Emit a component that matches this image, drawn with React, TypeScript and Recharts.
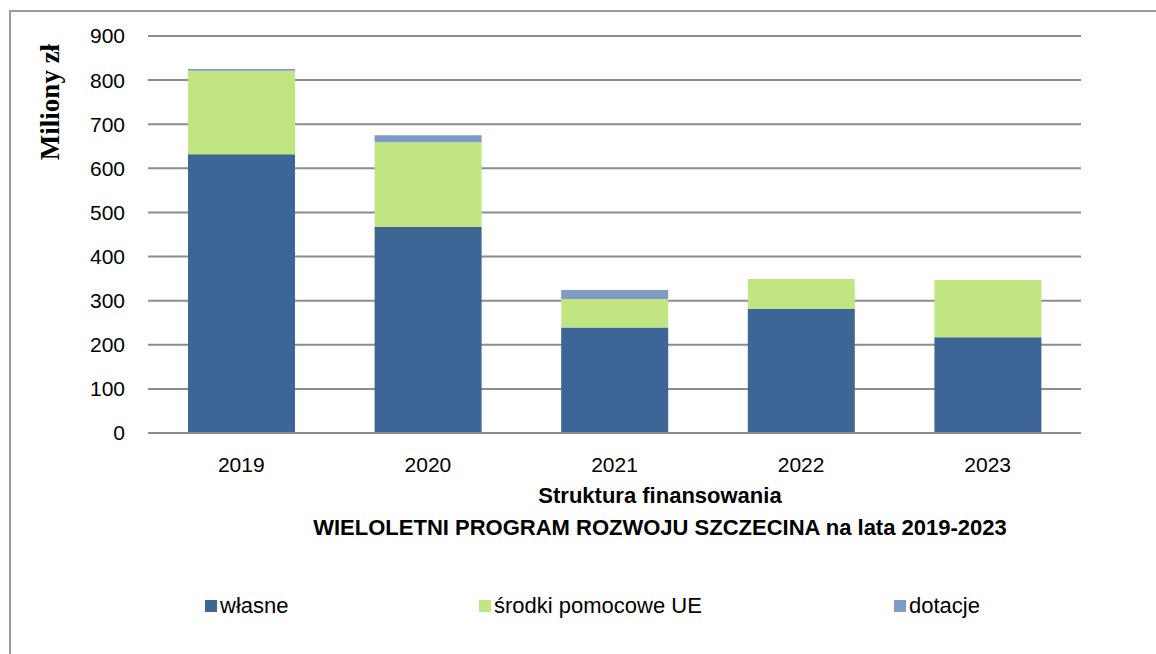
import { BarChart, Bar, XAxis, YAxis, CartesianGrid, Legend } from "recharts";

const years = ["2019", "2020", "2021", "2022", "2023"];
const wlasne = [632, 467, 239, 281, 217];
const srodkiUE = [189, 192, 65, 68, 130];
const dotacje = [4, 16, 20, 0, 0];
const yTicks = [0, 100, 200, 300, 400, 500, 600, 700, 800, 900];

const data = years.map((year, i) => ({
  year,
  wlasne: wlasne[i],
  srodkiUE: srodkiUE[i],
  dotacje: dotacje[i],
}));

const legendItems = [
  { label: "własne", color: "#3d6595", x: 205 },
  { label: "środki pomocowe UE", color: "#c1e583", x: 479 },
  { label: "dotacje", color: "#7f9cc9", x: 894 },
];

const font = "'Liberation Sans', Arial, sans-serif";

const CustomLegend = () => (
  <div style={{ position: "relative", height: 30 }}>
    {legendItems.map((item) => (
      <div
        key={item.label}
        style={{
          position: "absolute",
          left: item.x,
          top: 0,
          display: "flex",
          alignItems: "center",
          fontFamily: font,
          fontSize: 22,
          color: "#000",
        }}
      >
        <span style={{ width: 12, height: 12, background: item.color, display: "inline-block", marginRight: 3 }} />
        {item.label}
      </div>
    ))}
  </div>
);

const App = () => {
  return (
    <div style={{ position: "absolute", left: 0, top: 0, width: 1156, height: 654, background: "#fff", overflow: "hidden" }}>
      <div
        style={{
          position: "absolute",
          left: 9,
          top: 10,
          width: 1160,
          height: 660,
          borderLeft: "2px solid #9a9a9a",
          borderTop: "2px solid #9a9a9a",
        }}
      />
      <BarChart
        width={1156}
        height={654}
        data={data}
        margin={{ top: 36, right: 75, bottom: 0, left: 0 }}
        barSize={107}
        style={{ position: "absolute", left: 0, top: 0 }}
      >
        <CartesianGrid vertical={false} stroke="#8c8c8c" strokeWidth={2} />
        <XAxis
          dataKey="year"
          axisLine={{ stroke: "#8c8c8c", strokeWidth: 2 }}
          tickLine={false}
          height={191}
          tick={{ fontFamily: font, fontSize: 21, fill: "#000", dy: 16 }}
        />
        <YAxis
          width={148}
          domain={[0, 900]}
          ticks={yTicks}
          axisLine={false}
          tickLine={false}
          tickSize={2}
          tickMargin={21}
          tick={{ fontFamily: font, fontSize: 21, fill: "#000" }}
          interval={0}
        />
        <Legend
          verticalAlign="bottom"
          align="left"
          wrapperStyle={{ left: 0, bottom: 31, width: 1156 }}
          content={() => <CustomLegend />}
        />
        <Bar dataKey="wlasne" stackId="a" fill="#3d6595" isAnimationActive={false} />
        <Bar dataKey="srodkiUE" stackId="a" fill="#c1e583" isAnimationActive={false} />
        <Bar dataKey="dotacje" stackId="a" fill="#7f9cc9" isAnimationActive={false} />
      </BarChart>
      <div
        style={{
          position: "absolute",
          left: 0,
          width: 1320,
          top: 480,
          textAlign: "center",
          fontFamily: font,
          fontWeight: "bold",
          fontSize: 22,
          lineHeight: "32px",
          color: "#000",
        }}
      >
        <div style={{ width: 1320 }}>Struktura finansowania</div>
        <div style={{ width: 1320 }}>WIELOLETNI PROGRAM ROZWOJU SZCZECINA na lata 2019-2023</div>
      </div>
      <div
        style={{
          position: "absolute",
          left: 50,
          top: 102,
          transform: "translate(-50%, -50%) rotate(-90deg)",
          fontFamily: "'Liberation Serif', 'Times New Roman', serif",
          fontWeight: "bold",
          fontSize: 27,
          whiteSpace: "nowrap",
          color: "#000",
        }}
      >
        Miliony zł
      </div>
    </div>
  );
};

export default App;
